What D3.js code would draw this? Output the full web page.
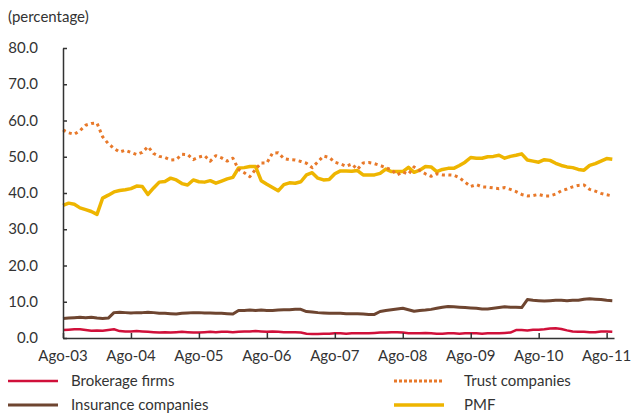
<!DOCTYPE html>
<html><head><meta charset="utf-8">
<script src="https://cdn.jsdelivr.net/npm/d3@7"></script>
<style>
body{margin:0;background:#fff;}
text{font-family:Lato,"Open Sans",sans-serif;fill:#333;}
</style></head>
<body><svg id="c" width="635" height="415"></svg>
<script>
// monthly observations, Aug-2003 .. Sep-2011
const startMonth = "2003-08";
const xTickLabels = ["Ago-03","Ago-04","Ago-05","Ago-06","Ago-07","Ago-08","Ago-09","Ago-10","Ago-11"];
const yTicks = [0,10,20,30,40,50,60,70,80];
const seriesNames = ["Brokerage firms","Insurance companies","Trust companies","PMF"];

const brokerage = [2.2,2.3,2.4,2.4,2.2,2.0,2.1,2.0,2.2,2.4,
1.9,1.8,1.8,1.9,1.8,1.7,1.6,1.5,1.6,1.5,
1.6,1.7,1.6,1.5,1.5,1.6,1.7,1.6,1.7,1.7,
1.6,1.7,1.8,1.8,1.9,1.8,1.7,1.8,1.7,1.6,
1.6,1.6,1.5,1.2,1.1,1.1,1.2,1.2,1.3,1.3,
1.2,1.3,1.3,1.3,1.3,1.4,1.5,1.5,1.6,1.6,
1.5,1.3,1.3,1.3,1.4,1.3,1.2,1.2,1.3,1.3,
1.2,1.3,1.3,1.3,1.2,1.3,1.3,1.3,1.4,1.5,
2.2,2.2,2.1,2.3,2.3,2.4,2.6,2.7,2.5,2.1,
1.8,1.7,1.7,1.6,1.6,1.8,1.8,1.7];

const insurance = [5.4,5.5,5.6,5.7,5.6,5.7,5.5,5.4,5.5,7.0,
7.1,7.0,6.9,7.0,7.0,7.1,7.0,6.8,6.8,6.7,
6.6,6.8,6.9,7.0,7.0,6.9,6.9,6.8,6.8,6.7,
6.6,7.6,7.6,7.7,7.6,7.7,7.6,7.6,7.7,7.8,
7.8,7.9,7.9,7.3,7.2,7.0,6.9,6.8,6.8,6.8,
6.7,6.7,6.7,6.6,6.5,6.5,7.3,7.6,7.8,8.0,
8.2,7.8,7.4,7.6,7.7,7.9,8.2,8.5,8.7,8.6,
8.5,8.4,8.3,8.2,8.0,8.0,8.2,8.4,8.6,8.5,
8.5,8.4,10.6,10.4,10.3,10.2,10.3,10.4,10.4,10.3,
10.4,10.4,10.7,10.8,10.7,10.6,10.4,10.3];

const trust = [57.4,56.6,56.2,57.2,58.7,59.2,59.3,55.5,53.6,52.3,
51.3,51.8,51.2,50.6,51.2,52.8,50.9,50.1,49.8,49.1,
49.2,50.7,50.6,49.2,49.9,50.3,48.8,50.3,49.7,48.8,
49.6,46.5,45.6,44.5,46.5,48.3,48.3,51.0,51.1,49.5,
49.2,49.1,48.7,48.2,47.0,48.6,50.2,49.8,48.5,48.0,
47.4,48.0,46.5,48.3,48.4,48.1,47.6,47.0,46.4,45.0,
45.8,45.2,47.2,46.2,45.3,44.6,45.3,45.0,45.0,44.9,
44.2,43.0,41.8,42.3,41.7,41.6,41.4,41.2,41.5,41.0,
40.4,39.6,39.2,39.3,39.6,39.2,39.2,39.7,40.6,41.1,
41.7,42.1,42.2,41.0,40.5,39.9,39.5,39.2];

const pmf = [36.6,37.2,36.9,35.9,35.4,34.9,34.1,38.6,39.4,40.3,
40.7,40.9,41.2,41.9,41.8,39.6,41.4,43.0,43.2,44.1,
43.6,42.6,42.2,43.6,43.1,43.0,43.4,42.7,43.3,43.9,
44.3,46.9,47.0,47.3,47.3,43.4,42.4,41.5,40.6,42.3,
42.8,42.7,43.1,45.0,45.6,44.1,43.6,43.7,45.3,46.1,
46.1,46.0,46.2,45.0,45.0,45.0,45.4,46.6,45.9,45.9,
45.9,47.1,45.7,46.3,47.3,47.2,45.9,46.5,46.8,46.8,
47.6,48.5,49.8,49.6,49.6,50.0,50.1,50.4,49.6,50.1,
50.4,50.8,49.1,48.8,48.5,49.2,49.0,48.2,47.6,47.2,
47.0,46.5,46.3,47.6,48.1,48.8,49.5,49.3];

const svg = d3.select("#c");
const x = d3.scaleLinear().domain([0, 97.3]).range([63, 614]);
const y = d3.scaleLinear().domain([0, 80]).range([338, 48]);

const series = [
  {name: seriesNames[0], values: brokerage, color: "#D0103A", width: 2.5, dash: null},
  {name: seriesNames[1], values: insurance, color: "#6E4530", width: 3, dash: null},
  {name: seriesNames[3], values: pmf, color: "#EEB500", width: 3.5, dash: null},
  {name: seriesNames[2], values: trust, color: "#E8792A", width: 3, dash: "3,3.5"}
];

const line = d3.line().x((d,i)=>x(i)).y(d=>y(d));
series.forEach(s=>{
  svg.append("path").datum(s.values)
    .attr("d", line).attr("fill","none")
    .attr("stroke", s.color).attr("stroke-width", s.width)
    .attr("stroke-linejoin","round")
    .attr("stroke-dasharray", s.dash);
});

// y axis
const yAxis = d3.axisRight(y).tickValues(yTicks).tickSize(4).tickSizeOuter(0).tickFormat("");
const gy = svg.append("g").attr("transform","translate(63,0)").call(yAxis);
gy.selectAll("path,line").attr("stroke","#333").attr("stroke-width",1.5);
svg.append("g").selectAll("text").data(yTicks).join("text")
  .attr("x", 38).attr("y", d=>y(d)+5).attr("text-anchor","end")
  .attr("font-size",15).text(d=>d3.format(".1f")(d));

// x axis
const xAxis = d3.axisTop(x).tickValues(d3.range(0, 97, 12)).tickSize(5).tickSizeOuter(0).tickFormat("");
const gx = svg.append("g").attr("transform","translate(0,338)").call(xAxis);
gx.selectAll("path,line").attr("stroke","#333").attr("stroke-width",1.5);
svg.append("g").selectAll("text").data(xTickLabels).join("text")
  .attr("x", (d,i)=>x(i*12)).attr("y", 361).attr("text-anchor","middle")
  .attr("font-size",15).text(d=>d);

svg.append("text").attr("x",8).attr("y",22).attr("font-size",15).text("(percentage)");

// legend
const legend = [
  {s: series[0], lx: 8, tx: 71, y: 381},
  {s: series[1], lx: 8, tx: 71, y: 405},
  {s: series[3], lx: 394, tx: 464, y: 381},
  {s: series[2], lx: 394, tx: 464, y: 405}
];
legend.forEach(l=>{
  svg.append("line").attr("x1",l.lx).attr("x2",l.lx+50).attr("y1",l.y).attr("y2",l.y)
    .attr("stroke",l.s.color).attr("stroke-width",l.s.width)
    .attr("stroke-dasharray", l.s.dash ? "3,2" : null);
  svg.append("text").attr("x",l.tx).attr("y",l.y+5).attr("font-size",15).text(l.s.name);
});
</script></body></html>
